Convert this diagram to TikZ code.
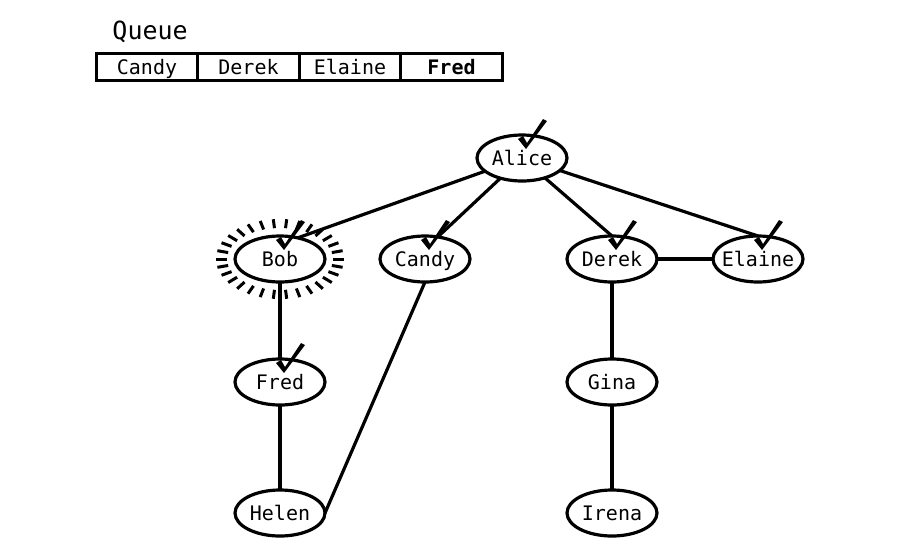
\documentclass[tikz,border=0pt]{standalone}
\usepackage{fontspec}
\setmonofont{DejaVu Sans Mono}
\usetikzlibrary{shapes.geometric, positioning}

% check mark above a visited node
\newcommand{\visitmark}[1]{%
  \fill[shift={(#1.north)}, xshift=4pt, yshift=-12pt]
    (0,2) -- (-8,-8) -- (-3,-11) -- (1,-4) -- (17,-28) -- (21,-26) -- cycle;}

\begin{document}
\begin{tikzpicture}[
    x=1pt, y=-1pt,
    every node/.style={font=\ttfamily\fontsize{20}{24}\selectfont, text height=14.5pt, text depth=0pt},
    person/.style={ellipse, draw, line width=3.2pt, minimum width=90pt, minimum height=46pt, inner sep=0pt, outer sep=0pt},
    qcell/.style={rectangle, draw, line width=2.8pt, minimum width=101.5pt, minimum height=27pt, inner sep=0pt, outer sep=0pt},
    edge/.style={line width=3.2pt},
    halo/.style={line width=3pt}
]
\useasboundingbox (0,0) rectangle (900,558);

% Queue
\node (cell1) [qcell] at (147,67) {Candy};
\node (cell2) [qcell, right=0pt of cell1] {Derek};
\node (cell3) [qcell, right=0pt of cell2] {Elaine};
\node (cell4) [qcell, right=0pt of cell3] {\textbf{Fred}};
\node (queuetitle) [above right=14pt and 16pt of cell1.north west, anchor=base west, inner sep=0pt,
    font=\ttfamily\fontsize{25}{30}\selectfont] {Queue};

% Nodes
\node (alice) [person, label=center:Alice] at (522,158) {};
\node (bob) [person, label=center:Bob] at (280,259) {};
\node (candy) [person, label=center:Candy] at (425,259) {};
\node (derek) [person, label=center:Derek] at (612,259) {};
\node (elaine) [person, label=center:Elaine] at (758,259) {};
\node (fred) [person, label=center:Fred, below=77pt of bob] {};
\node (gina) [person, label=center:Gina, below=77pt of derek] {};
\node (helen) [person, label=center:Helen, below=85pt of fred] {};
\node (irena) [person, label=center:Irena, below=85pt of gina] {};

% Edges
\draw [edge] (alice) -- (bob.50);
\draw [edge] (alice) -- (candy.60);
\draw [edge] (alice) -- (derek.north);
\draw [edge] (alice) -- (elaine.north);
\draw [edge] (derek) -- (elaine);
\draw [edge] (bob) -- (fred);
\draw [edge] (fred) -- (helen);
\draw [edge] (candy.south) -- (helen.east);
\draw [edge] (derek) -- (gina);
\draw [edge] (gina) -- (irena);

% current node
\foreach \a in {0,12,...,348}
  \draw [halo, shift={(bob)}] (\a:53 and 31) -- (\a:64 and 40);

% visited
\foreach \n in {alice,bob,candy,derek,elaine,fred}
  {\visitmark{\n}}

\end{tikzpicture}
\end{document}
